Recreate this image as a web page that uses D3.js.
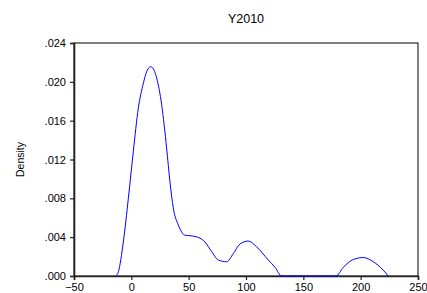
<!DOCTYPE html>
<html lang="en">
<head>
<meta charset="UTF-8">
<title>Y2010</title>
<script src="https://cdn.jsdelivr.net/npm/d3@7"></script>
<style>
  body { margin: 0; background: #fff; }
  text { font-family: "Liberation Sans", Arial, sans-serif; fill: #000; }
</style>
</head>
<body>
<script>

// kernel density of Y2010
var xValues = [-13.6, -11.3, -7.0, -2.6, 1.7, 6.1, 10.4, 13.5, 16.9, 19.8, 22.1, 26.5, 30.8, 33.7, 36.6, 41.0, 46.8, 51.2, 59.9, 64.2, 70.1, 75.8, 83.1, 88.9, 94.8, 102.0, 109.3, 119.4, 125.3, 131.1, 178.5, 184.9, 193.6, 202.3, 211.0, 219.7, 224.1]
var densities = [0, 0.00044, 0.0035, 0.0080, 0.0128, 0.0173, 0.0198, 0.0211, 0.02156, 0.0212, 0.0204, 0.0176, 0.01315, 0.0097, 0.0070, 0.00525, 0.0042, 0.00415, 0.0039, 0.0035, 0.0025, 0.00165, 0.00147, 0.0023, 0.0033, 0.0036, 0.0030, 0.00165, 0.0009, 0, 0, 0.0009, 0.0017, 0.0019, 0.00147, 0.0006, 0]
var xTicks = [-50, 0, 50, 100, 150, 200, 250]
var yTicks = [0, 0.004, 0.008, 0.012, 0.016, 0.020, 0.024]
var title = "Y2010"
var yLabel = "Density"

var width = 427,
    height = 293
var margin = {top: 43, right: 9, bottom: 17, left: 74}

var svg = d3.select("body").append("svg")
    .attr("width", width)
    .attr("height", height)

var x = d3.scaleLinear().domain([-50, 250]).range([margin.left, width - margin.right])
var y = d3.scaleLinear().domain([0, 0.024]).range([height - margin.bottom, margin.top])

// frame
svg.append("rect")
    .attr("x", x(-50)).attr("y", y(0.024))
    .attr("width", x(250) - x(-50)).attr("height", y(0) - y(0.024))
    .attr("fill", "none").attr("stroke", "#000").attr("stroke-width", 1)

var fmt = function(d) { return d3.format(".3f")(d).replace(/^0/, "") }

var xAxis = svg.append("g")
    .attr("transform", "translate(0," + y(0) + ")")
    .call(d3.axisBottom(x).tickValues(xTicks).tickSize(4).tickPadding(3))
var yAxis = svg.append("g")
    .attr("transform", "translate(" + x(-50) + ",0)")
    .call(d3.axisLeft(y).tickValues(yTicks).tickSize(4).tickPadding(4).tickFormat(fmt))

svg.selectAll(".domain").attr("stroke", "#222").attr("stroke-width", 1.6)
svg.selectAll(".tick line").attr("stroke", "#222").attr("stroke-width", 1.2)
svg.selectAll(".tick text").style("font-size", "11px").attr("fill", "#000")

// density curve
var line = d3.line()
    .x(function(d, i) { return x(d) })
    .y(function(d, i) { return y(densities[i]) })
    .curve(d3.curveMonotoneX)

svg.append("path")
    .datum(xValues)
    .attr("d", line)
    .attr("fill", "none")
    .attr("stroke", "#0000ff")
    .attr("stroke-width", 1)

svg.append("text")
    .attr("x", (x(-50) + x(250)) / 2)
    .attr("y", 23)
    .attr("text-anchor", "middle")
    .style("font-size", "12.5px")
    .text(title)

svg.append("text")
    .attr("transform", "translate(24," + (y(0) + y(0.024)) / 2 + ") rotate(-90)")
    .attr("text-anchor", "middle")
    .style("font-size", "10.5px")
    .text(yLabel)

</script>
</body>
</html>
